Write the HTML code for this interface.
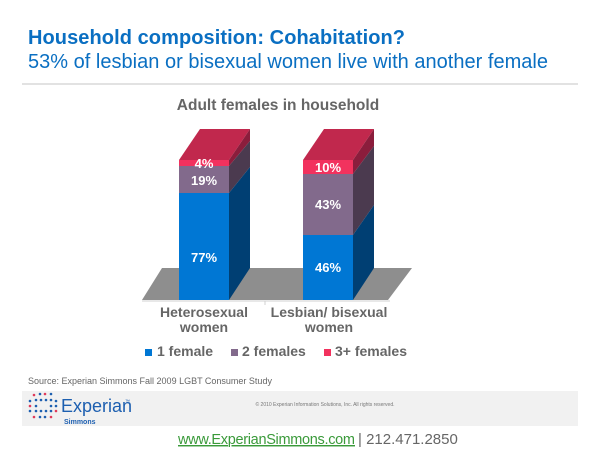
<!DOCTYPE html>
<html><head><meta charset="utf-8"><style>
body{margin:0;width:600px;height:450px;background:#fff;overflow:hidden;font-family:"Liberation Sans",Arial,sans-serif}
</style></head><body>
<svg width="600" height="450" xmlns="http://www.w3.org/2000/svg" style="position:absolute;left:0;top:0;font-family:'Liberation Sans',Arial,sans-serif">
<text x="28" y="44" font-size="20" font-weight="bold" fill="#0a6fc2" textLength="377">Household composition: Cohabitation?</text>
<text x="28" y="68" font-size="20" fill="#0a6fc2" textLength="520">53% of lesbian or bisexual women live with another female</text>
<rect x="22" y="83" width="556" height="2" fill="#e2e2e2"/>
<text x="278" y="110" font-size="15.5" font-weight="bold" fill="#666" text-anchor="middle">Adult females in household</text>
<polygon points="142,300 162,268 412,268 388,300" fill="#8e8e8e"/>
<line x1="142" y1="301" x2="390" y2="301" stroke="#d0d0d0"/>
<line x1="265" y1="301" x2="265" y2="305" stroke="#d0d0d0"/>
<polygon points="179,160 229,160 250,129 200,129" fill="#c1284d"/>
<polygon points="229,160 250,129 250,141 229,166" fill="#8b1d3c"/>
<polygon points="229,166 250,141 250,167 229,193" fill="#4b3a4f"/>
<polygon points="229,193 250,167 250,268 229,300" fill="#003f73"/>
<rect x="179" y="160" width="50" height="6" fill="#f2325e"/>
<rect x="179" y="166" width="50" height="27" fill="#826a8c"/>
<rect x="179" y="193" width="50" height="107" fill="#0077d4"/>
<polygon points="303,160 353,160 374,129 324,129" fill="#c1284d"/>
<polygon points="353,160 374,129 374,146 353,174" fill="#8b1d3c"/>
<polygon points="353,174 374,146 374,205 353,235" fill="#4b3a4f"/>
<polygon points="353,235 374,205 374,268 353,300" fill="#003f73"/>
<rect x="303" y="160" width="50" height="14" fill="#f2325e"/>
<rect x="303" y="174" width="50" height="61" fill="#826a8c"/>
<rect x="303" y="235" width="50" height="65" fill="#0077d4"/>
<g font-size="13" font-weight="bold" fill="#fff" text-anchor="middle">
<text x="204" y="168">4%</text>
<text x="204" y="185">19%</text>
<text x="204" y="262">77%</text>
<text x="328" y="172">10%</text>
<text x="328" y="209">43%</text>
<text x="328" y="272">46%</text>
</g>
<g font-size="14" font-weight="bold" fill="#666" text-anchor="middle">
<text x="204" y="317">Heterosexual</text>
<text x="204" y="332">women</text>
<text x="329" y="317">Lesbian/ bisexual</text>
<text x="329" y="332">women</text>
</g>
<g font-size="14" font-weight="bold" fill="#666">
<rect x="145" y="349" width="7" height="7" fill="#0077d4"/><text x="157" y="356">1 female</text>
<rect x="231" y="349" width="7" height="7" fill="#826a8c"/><text x="242" y="356">2 females</text>
<rect x="324" y="349" width="7" height="7" fill="#f2325e"/><text x="335" y="356">3+ females</text>
</g>
<text x="28" y="384" font-size="9" fill="#666">Source: Experian Simmons Fall 2009 LGBT Consumer Study</text>
<rect x="22" y="391" width="556" height="35" fill="#f1f1f1"/>
<g fill="#1d5fb0">
<circle cx="34" cy="395" r="1.3" fill="#e03a5a"/><circle cx="40" cy="394" r="1.3"/><circle cx="45" cy="394" r="1.3" fill="#e03a5a"/><circle cx="51" cy="394" r="1.3"/>
<circle cx="30" cy="401" r="1.3"/><circle cx="36" cy="400" r="1.3"/><circle cx="41" cy="400" r="1.3"/><circle cx="46" cy="400" r="1.3"/><circle cx="51" cy="400" r="1.3"/><circle cx="56" cy="401" r="1.3"/>
<circle cx="30" cy="406" r="1.3" fill="#e03a5a"/><circle cx="36" cy="406" r="1.3"/><circle cx="51" cy="406" r="1.3"/><circle cx="56" cy="406" r="1.3"/>
<circle cx="30" cy="411" r="1.3"/><circle cx="36" cy="411" r="1.3"/><circle cx="41" cy="411" r="1.3"/><circle cx="46" cy="411" r="1.3"/><circle cx="51" cy="411" r="1.3"/><circle cx="56" cy="411" r="1.3" fill="#e03a5a"/>
<circle cx="34" cy="417" r="1.3" fill="#e03a5a"/><circle cx="40" cy="417" r="1.3"/><circle cx="45" cy="417" r="1.3"/><circle cx="51" cy="417" r="1.3" fill="#e03a5a"/>
</g>
<text x="61" y="412" font-size="18" fill="#1d5fb0">Experian</text><text x="125" y="403" font-size="5" fill="#1d5fb0">™</text>
<text x="64" y="424" font-size="7" font-weight="bold" fill="#1d5fb0">Simmons</text>
<text x="325" y="406" font-size="5" fill="#777" text-anchor="middle">© 2010 Experian Information Solutions, Inc.  All rights reserved.</text>
<text x="178" y="444" font-size="14.5" fill="#3a9a3a" text-decoration="underline" textLength="177">www.ExperianSimmons.com</text>
<text x="358" y="444" font-size="15" fill="#666">| 212.471.2850</text>
</svg>
</body></html>
